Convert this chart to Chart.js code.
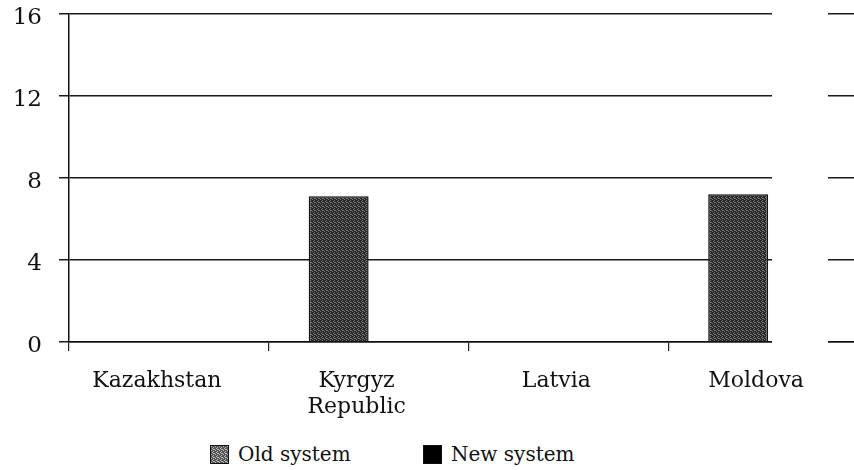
<!DOCTYPE html>
<html>
<head>
<meta charset="utf-8">
<title>Old system / New system</title>
<script src="https://cdn.jsdelivr.net/npm/chart.js@4.4.1/dist/chart.umd.min.js"></script>
<style>
  body { margin: 0; background: #fff; overflow: hidden; width: 854px; height: 470px; }
  #wrap { position: absolute; left: 0; top: -17px; width: 920px; height: 437px; }
  #legend { position: absolute; top: 442px; left: 0; font-family: "DejaVu Serif", serif; font-size: 20px; color: #111; }
  .item { position: absolute; top: 0; white-space: nowrap; }
  .box { display: inline-block; width: 19px; height: 19px; vertical-align: -3px; margin-right: 9px; box-sizing: border-box; border: 1px solid #111; }
</style>
</head>
<body>
<div id="wrap"><canvas id="chart" width="920" height="437"></canvas></div>
<div id="legend">
  <div class="item" style="left:210px"><span class="box" id="oldBox"></span>Old system</div>
  <div class="item" style="left:423px"><span class="box" style="background:#000"></span>New system</div>
</div>
<script>
'use strict'

// donnees
const categories = [['Kazakhstan'], ['Kyrgyz', 'Republic'], ['Latvia'], ['Moldova']];
const oldSystem = [null, 7.1, null, 7.2];
const newSystem = [null, null, null, null];
const yTicks = [0, 4, 8, 12, 16];

// trame grise facon photocopie
function makePattern(dark, light) {
    const c = document.createElement('canvas');
    c.width = 4;
    c.height = 4;
    const g = c.getContext('2d');
    g.fillStyle = dark;
    g.fillRect(0, 0, 4, 4);
    g.fillStyle = light;
    [[0, 0], [2, 1], [1, 2], [3, 3], [2, 3]].forEach(p => g.fillRect(p[0], p[1], 1, 1));
    return c;
}

const ctx = document.getElementById('chart').getContext('2d');
const barFill = ctx.createPattern(makePattern('#262626', '#7c7c7c'), 'repeat');

document.getElementById('oldBox').style.background =
    'url(' + makePattern('#555', '#bbb').toDataURL() + ')';

// coupure des lignes a droite (comme sur le scan)
const gapPlugin = {
    id: 'gap',
    beforeDatasetsDraw(chart) {
        const a = chart.chartArea;
        const g = chart.ctx;
        g.save();
        g.fillStyle = '#fff';
        g.fillRect(772, a.top - 3, 56, a.bottom - a.top + 4);
        g.restore();
    }
};

new Chart(ctx, {
    type: 'bar',
    data: {
        labels: categories,
        datasets: [
            {
                label: 'Old system',
                data: oldSystem,
                backgroundColor: barFill,
                borderColor: '#111',
                borderWidth: 1.5,
                categoryPercentage: 0.6,
                barPercentage: 1
            },
            {
                label: 'New system',
                data: newSystem,
                backgroundColor: '#000',
                borderColor: '#000',
                borderWidth: 1,
                categoryPercentage: 0.6,
                barPercentage: 1
            }
        ]
    },
    options: {
        responsive: false,
        animation: false,
        devicePixelRatio: 1,
        layout: { padding: { top: 0, right: 52, left: 0, bottom: 0 } },
        plugins: {
            legend: { display: false },
            tooltip: { enabled: false }
        },
        scales: {
            x: {
                grid: { drawOnChartArea: false, tickLength: 9, color: '#222', lineWidth: 1.2, offset: true },
                border: { color: '#111', width: 1.5 },
                ticks: {
                    color: '#111',
                    font: { family: '"DejaVu Serif", serif', size: 22, lineHeight: 1.15 },
                    padding: 18,
                    labelOffset: -12,
                    maxRotation: 0,
                    autoSkip: false
                },
                afterFit: s => { s.height = 78; }
            },
            y: {
                min: 0,
                max: 16,
                afterBuildTicks: s => { s.ticks = yTicks.map(v => ({ value: v })); },
                grid: { color: '#1a1a1a', lineWidth: 1.5, tickLength: 10 },
                border: { color: '#111', width: 1.5 },
                ticks: { color: '#111', font: { family: '"DejaVu Serif", serif', size: 23 }, padding: 17, labelOffset: 4 },
                afterFit: s => { s.width = 69; }
            }
        }
    },
    plugins: [gapPlugin]
});
</script>
</body>
</html>
